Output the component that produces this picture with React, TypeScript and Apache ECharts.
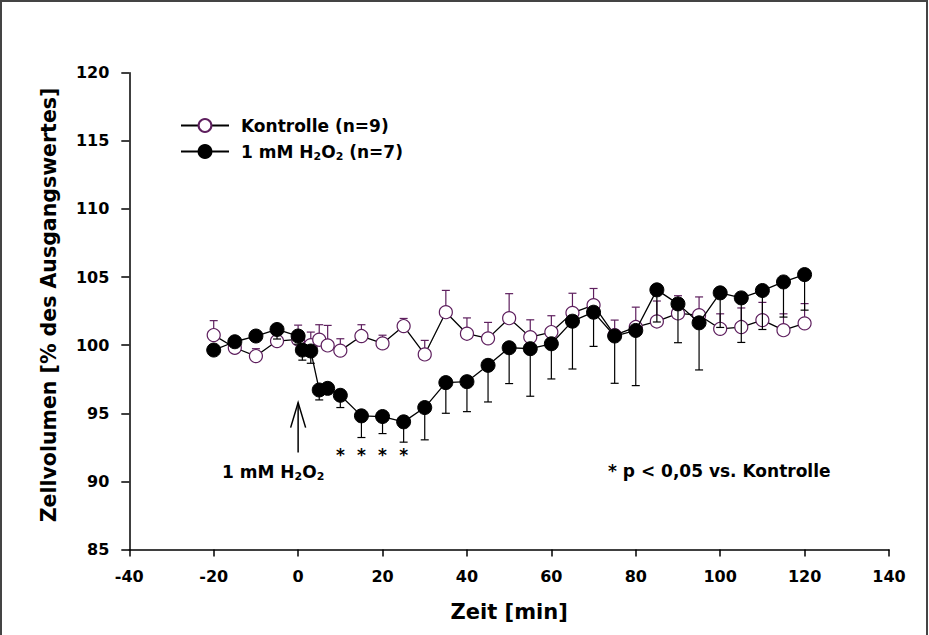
import React, { useEffect, useRef } from "react";
import * as echarts from "echarts";

// ---- data ----
const kontrolleTimes = [-20, -15, -10, -5, 0, 3, 5, 7, 10, 15, 20, 25, 30, 35, 40, 45, 50, 55, 60, 65, 70, 75, 80, 85, 90, 95, 100, 105, 110, 115, 120];
const kontrolleMean = [100.74, 99.81, 99.2, 100.3, 100.42, 100.0, 100.4, 99.98, 99.6, 100.67, 100.13, 101.4, 99.32, 102.42, 100.84, 100.5, 101.98, 100.59, 100.96, 102.37, 102.94, 100.74, 101.33, 101.74, 102.33, 102.2, 101.2, 101.33, 101.84, 101.1, 101.6];
const kontrolleErr = [1.06, 0.3, 0.54, 0.3, 1.05, 0.96, 1.1, 1.47, 0.87, 0.83, 0.6, 0.56, 1.03, 1.6, 1.16, 1.17, 1.8, 1.27, 1.2, 1.44, 1.22, 1.1, 1.46, 1.5, 1.3, 1.34, 1.1, 1.4, 1.3, 1.2, 1.45];

const h2o2Times = [-20, -15, -10, -5, 0, 1, 3, 5, 7, 10, 15, 20, 25, 30, 35, 40, 45, 50, 55, 60, 65, 70, 75, 80, 85, 90, 95, 100, 105, 110, 115, 120];
const h2o2Mean = [99.64, 100.25, 100.67, 101.15, 100.67, 99.64, 99.57, 96.71, 96.83, 96.32, 94.81, 94.76, 94.37, 95.42, 97.25, 97.32, 98.52, 99.81, 99.74, 100.1, 101.76, 102.42, 100.67, 101.08, 104.06, 103.03, 101.64, 103.84, 103.47, 104.01, 104.64, 105.18];
const h2o2Err = [0.2, 0.3, 0.3, 0.7, 0.6, 0.74, 0.9, 0.73, 0.4, 0.9, 1.59, 1.25, 1.49, 2.37, 2.25, 2.2, 2.69, 2.63, 3.49, 2.58, 3.51, 2.51, 3.47, 4.05, 2.36, 2.85, 3.46, 2.54, 3.27, 2.86, 2.58, 2.61];

const significantTimes = [10, 15, 20, 25];
const starLevel = 91.95;
const arrowTime = 0;
const arrowFrom = 92.12;
const arrowTo = 95.78;

const KONTROLLE = "Kontrolle (n=9)";
const H2O2 = "1 mM H2O2 (n=7)";
const X_TITLE = "Zeit [min]";
const Y_TITLE = "Zellvolumen [% des Ausgangswertes]";
const P_NOTE = "* p < 0,05 vs. Kontrolle";

const PURPLE = "#5e1f5e";
const FONT = "'DejaVu Sans', 'Liberation Sans', Arial, sans-serif";

function errorBars(name: string, times: number[], means: number[], errs: number[], dir: number, color: string, z: number) {
  return {
    type: "custom",
    name,
    z,
    silent: true,
    data: times.map((t, i) => [t, means[i], errs[i]]),
    encode: { x: 0, y: 1 },
    renderItem: (_params: any, api: any) => {
      const x = api.value(0);
      const y = api.value(1);
      const e = api.value(2);
      const p0 = api.coord([x, y]);
      const p1 = api.coord([x, y + dir * e]);
      return {
        type: "group",
        children: [
          { type: "line", shape: { x1: p0[0], y1: p0[1], x2: p1[0], y2: p1[1] }, style: { stroke: color, lineWidth: 1.2 } },
          { type: "line", shape: { x1: p1[0] - 4, y1: p1[1], x2: p1[0] + 4, y2: p1[1] }, style: { stroke: color, lineWidth: 1.2 } },
        ],
      };
    },
  };
}

const richBase = {
  f: { fontFamily: FONT, fontWeight: "bold", fontSize: 17, lineHeight: 20, color: "#000", padding: [0, 0, 0, 7] },
  a: { fontFamily: FONT, fontWeight: "bold", fontSize: 17, lineHeight: 20, color: "#000" },
  s: { fontFamily: FONT, fontWeight: "bold", fontSize: 11, lineHeight: 11, color: "#000", verticalAlign: "bottom" },
};

export default function App() {
  const ref = useRef<HTMLDivElement>(null);
  useEffect(() => {
    if (!ref.current) return;
    const chart = echarts.init(ref.current, undefined, { renderer: "svg" });
    chart.setOption({
      animation: false,
      backgroundColor: "#fff",
      grid: { left: 129.3, top: 72.7, right: 40, bottom: 85.5, containLabel: false },
      legend: {
        orient: "vertical",
        left: 175,
        top: 112,
        padding: 5,
        itemWidth: 48,
        itemHeight: 16,
        itemGap: 9,
        data: [{ name: KONTROLLE }, { name: H2O2 }],
        formatter: (name: string) =>
          name === KONTROLLE ? `{f|${name}}` : "{f|1 mM H}{s|2}{a|O}{s|2}{a| (n=7)}",
        textStyle: { fontFamily: FONT, fontWeight: "bold", fontSize: 17, color: "#000", rich: richBase },
      },
      xAxis: {
        type: "value",
        min: -40,
        max: 140,
        interval: 20,
        name: X_TITLE,
        nameLocation: "middle",
        nameGap: 52,
        nameTextStyle: { fontFamily: FONT, fontWeight: "bold", fontSize: 21, color: "#000" },
        axisLine: { show: true, onZero: false, lineStyle: { color: "#000", width: 1.5 } },
        axisTick: { show: true, inside: false, length: 7, lineStyle: { color: "#000", width: 1.5 } },
        axisLabel: { margin: 19, fontFamily: FONT, fontWeight: "bold", fontSize: 16, color: "#000" },
        splitLine: { show: false },
      },
      yAxis: {
        type: "value",
        min: 85,
        max: 120,
        interval: 5,
        axisLine: { show: true, onZero: false, lineStyle: { color: "#000", width: 1.5 } },
        axisTick: { show: true, inside: false, length: 8, lineStyle: { color: "#000", width: 1.5 } },
        axisLabel: { margin: 20, fontFamily: FONT, fontWeight: "bold", fontSize: 16, color: "#000" },
        splitLine: { show: false },
      },
      series: [
        errorBars("Kontrolle SEM", kontrolleTimes, kontrolleMean, kontrolleErr, 1, PURPLE, 1),
        {
          type: "line",
          name: KONTROLLE,
          z: 2,
          data: kontrolleTimes.map((t, i) => [t, kontrolleMean[i]]),
          symbol: "circle",
          symbolSize: 13,
          showAllSymbol: true,
          itemStyle: { color: "#fff", borderColor: PURPLE, borderWidth: 1.2 },
          lineStyle: { color: "#000", width: 1.3 },
        },
        errorBars("H2O2 SEM", h2o2Times, h2o2Mean, h2o2Err, -1, "#000", 3),
        {
          type: "line",
          name: H2O2,
          z: 4,
          data: h2o2Times.map((t, i) => [t, h2o2Mean[i]]),
          symbol: "circle",
          symbolSize: 14,
          showAllSymbol: true,
          itemStyle: { color: "#000", borderColor: "#000", borderWidth: 1 },
          lineStyle: { color: "#000", width: 1.3 },
        },
      ],
    });

    const px = (x: number, y: number) => chart.convertToPixel({ gridIndex: 0 }, [x, y]) as number[];
    const aBottom = px(arrowTime, arrowFrom);
    const aTop = px(arrowTime, arrowTo);
    const textStyleBase = { fontFamily: FONT, fontWeight: "bold", fontSize: 17, fill: "#000" };

    const graphics: any[] = [
      { type: "rect", silent: true, z: 100, shape: { x: 1, y: 1, width: 926, height: 700 }, style: { fill: "none", stroke: "#444", lineWidth: 2 } },
      { type: "line", silent: true, shape: { x1: aBottom[0], y1: aBottom[1], x2: aTop[0], y2: aTop[1] }, style: { stroke: "#000", lineWidth: 1.5 } },
      { type: "polyline", silent: true, shape: { points: [[aTop[0] - 7.5, aTop[1] + 25], [aTop[0], aTop[1]], [aTop[0] + 7.5, aTop[1] + 25]] }, style: { stroke: "#000", fill: "none", lineWidth: 1.5 } },
      {
        type: "text",
        silent: true,
        style: {
          x: 222,
          y: 471.5,
          text: "{a|1 mM H}{s|2}{a|O}{s|2}",
          align: "left",
          verticalAlign: "middle",
          textAlign: "left",
          textVerticalAlign: "middle",
          rich: richBase,
          ...textStyleBase,
        },
      },
      {
        type: "text",
        silent: true,
        style: { x: 608, y: 470.5, text: P_NOTE, align: "left", verticalAlign: "middle", textAlign: "left", textVerticalAlign: "middle", ...textStyleBase },
      },
      {
        type: "text",
        silent: true,
        x: 49,
        y: 305,
        rotation: Math.PI / 2,
        style: { x: 0, y: 0, text: Y_TITLE, align: "center", verticalAlign: "middle", textAlign: "center", textVerticalAlign: "middle", ...textStyleBase, fontSize: 20.5 },
      },
    ];
    significantTimes.forEach((t) => {
      const p = px(t, starLevel);
      graphics.push({
        type: "text",
        silent: true,
        style: { x: p[0], y: p[1], text: "*", align: "center", verticalAlign: "middle", textAlign: "center", textVerticalAlign: "middle", ...textStyleBase },
      });
    });
    chart.setOption({ graphic: graphics });

    return () => chart.dispose();
  }, []);
  return <div ref={ref} style={{ position: "fixed", left: 0, top: 0, width: 929, height: 635, background: "#fff" }} />;
}
